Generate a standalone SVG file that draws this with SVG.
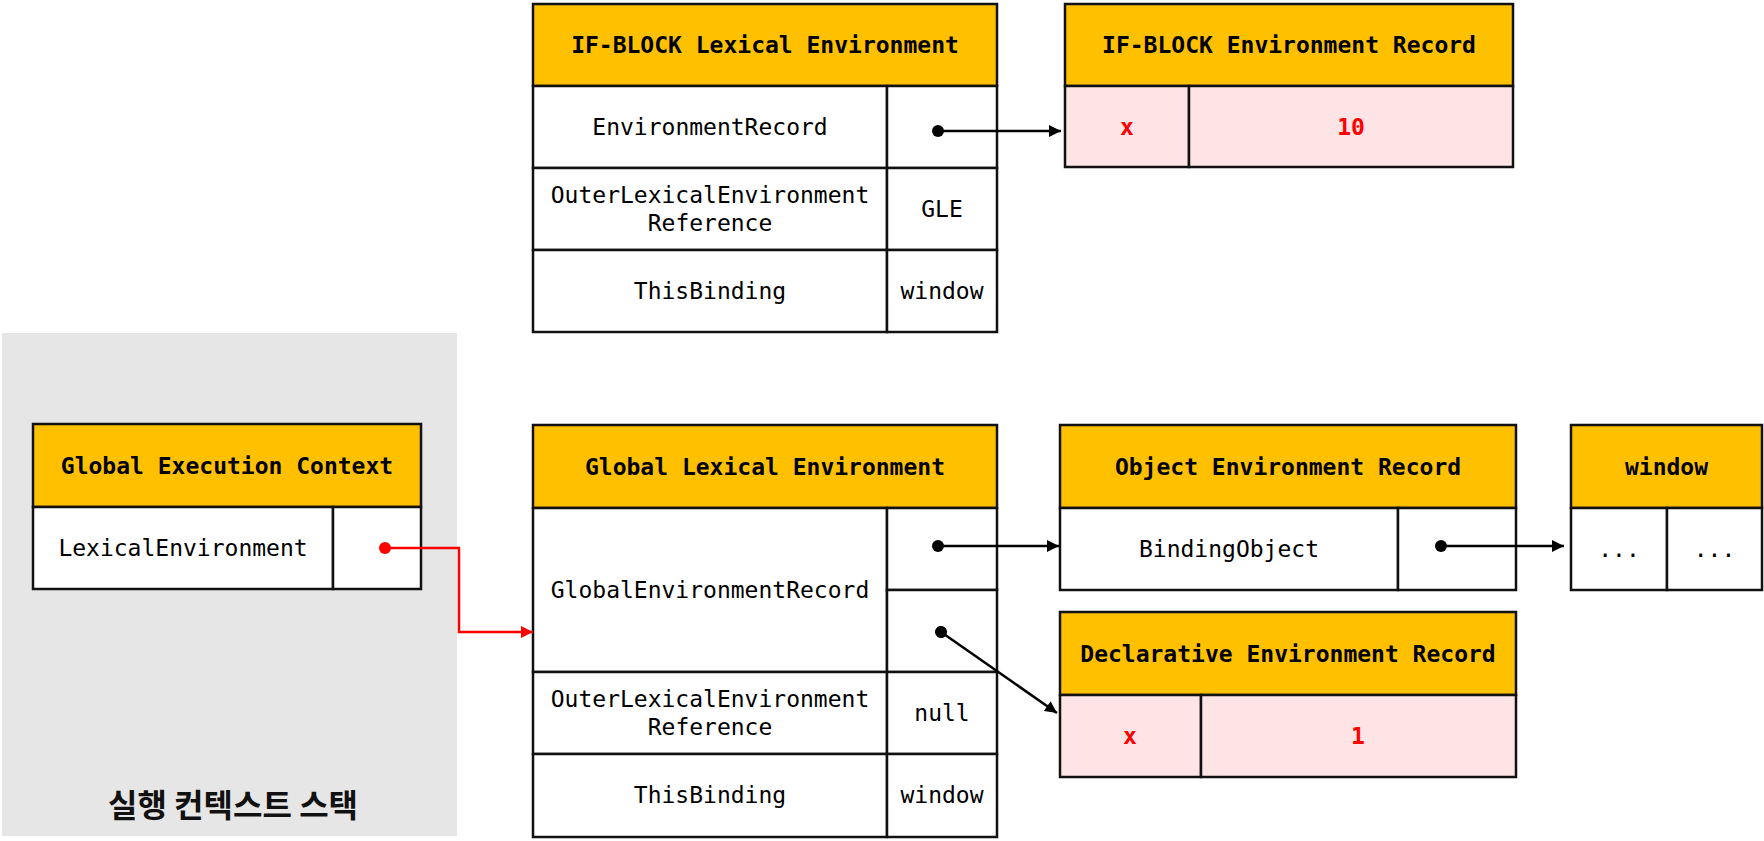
<svg xmlns="http://www.w3.org/2000/svg" width="1764" height="841" viewBox="0 0 1764 841">
<style>
.hdr{fill:#FFC000;stroke:#111;stroke-width:2.5}
.cell{fill:#fff;stroke:#111;stroke-width:2.5}
.pink{fill:#FFE4E6;stroke:#111;stroke-width:2.5}
text{font-family:"DejaVu Sans Mono","Liberation Mono",monospace;font-size:23px;text-anchor:middle;fill:#000}
.b{font-weight:bold}
.r{fill:#f00;font-weight:bold}
.kr{font-family:"Noto Sans CJK KR","Noto Sans",sans-serif;font-size:32px;font-weight:bold;fill:#111}
.conn{fill:none;stroke:#000;stroke-width:2.5}
.red{fill:none;stroke:#f00;stroke-width:2.5}
</style>
<defs>
<marker id="arr" markerUnits="userSpaceOnUse" viewBox="0 0 12 12" markerWidth="12" markerHeight="12" refX="12" refY="6" orient="auto"><path d="M0,0 L12,6 L0,12 z" fill="#000"/></marker>
<marker id="dot" markerUnits="userSpaceOnUse" viewBox="0 0 12 12" markerWidth="12" markerHeight="12" refX="6" refY="6" orient="auto"><circle cx="6" cy="6" r="6" fill="#000"/></marker>
<marker id="arrR" markerUnits="userSpaceOnUse" viewBox="0 0 12 12" markerWidth="12" markerHeight="12" refX="12" refY="6" orient="auto"><path d="M0,0 L12,6 L0,12 z" fill="#f00"/></marker>
<marker id="dotR" markerUnits="userSpaceOnUse" viewBox="0 0 12 12" markerWidth="12" markerHeight="12" refX="6" refY="6" orient="auto"><circle cx="6" cy="6" r="6" fill="#f00"/></marker>
</defs>
<rect width="1764" height="841" fill="#fff"/>

<g id="stack">
<rect x="2" y="333" width="455" height="503" fill="#E6E6E6"/>
<text class="kr" x="233" y="817">실행 컨텍스트 스택</text>
</g>

<g id="if-block-le">
<rect class="hdr" x="533" y="4" width="464" height="82"/>
<text class="b" x="765" y="53">IF-BLOCK Lexical Environment</text>
<rect class="cell" x="533" y="86" width="354" height="82"/>
<rect class="cell" x="887" y="86" width="110" height="82"/>
<rect class="cell" x="533" y="168" width="354" height="82"/>
<rect class="cell" x="887" y="168" width="110" height="82"/>
<rect class="cell" x="533" y="250" width="354" height="82"/>
<rect class="cell" x="887" y="250" width="110" height="82"/>
<text x="710" y="135">EnvironmentRecord</text>
<text x="710" y="203">OuterLexicalEnvironment</text>
<text x="710" y="231">Reference</text>
<text x="942" y="217">GLE</text>
<text x="710" y="299">ThisBinding</text>
<text x="942" y="299">window</text>
</g>

<g id="if-block-er">
<rect class="hdr" x="1065" y="4" width="448" height="82"/>
<text class="b" x="1289" y="53">IF-BLOCK Environment Record</text>
<rect class="pink" x="1065" y="86" width="124" height="81"/>
<rect class="pink" x="1189" y="86" width="324" height="81"/>
<text class="r" x="1127" y="135">x</text>
<text class="r" x="1351" y="135">10</text>
</g>

<g id="gec">
<rect class="hdr" x="33" y="424" width="388" height="83"/>
<text class="b" x="227" y="474">Global Execution Context</text>
<rect class="cell" x="33" y="507" width="300" height="82"/>
<rect class="cell" x="333" y="507" width="88" height="82"/>
<text x="183" y="556">LexicalEnvironment</text>
</g>

<g id="global-le">
<rect class="hdr" x="533" y="425" width="464" height="83"/>
<text class="b" x="765" y="475">Global Lexical Environment</text>
<rect class="cell" x="533" y="508" width="354" height="164"/>
<rect class="cell" x="887" y="508" width="110" height="82"/>
<rect class="cell" x="887" y="590" width="110" height="82"/>
<rect class="cell" x="533" y="672" width="354" height="82"/>
<rect class="cell" x="887" y="672" width="110" height="82"/>
<rect class="cell" x="533" y="754" width="354" height="83"/>
<rect class="cell" x="887" y="754" width="110" height="83"/>
<text x="710" y="598">GlobalEnvironmentRecord</text>
<text x="710" y="707">OuterLexicalEnvironment</text>
<text x="710" y="735">Reference</text>
<text x="942" y="721">null</text>
<text x="710" y="803">ThisBinding</text>
<text x="942" y="803">window</text>
</g>

<g id="object-er">
<rect class="hdr" x="1060" y="425" width="456" height="83"/>
<text class="b" x="1288" y="475">Object Environment Record</text>
<rect class="cell" x="1060" y="508" width="338" height="82"/>
<rect class="cell" x="1398" y="508" width="118" height="82"/>
<text x="1229" y="557">BindingObject</text>
</g>

<g id="window">
<rect class="hdr" x="1571" y="425" width="191" height="83"/>
<text class="b" x="1666.5" y="475">window</text>
<rect class="cell" x="1571" y="508" width="96" height="82"/>
<rect class="cell" x="1667" y="508" width="95" height="82"/>
<text x="1619" y="557">...</text>
<text x="1714.5" y="557">...</text>
</g>

<g id="declarative-er">
<rect class="hdr" x="1060" y="612" width="456" height="83"/>
<text class="b" x="1288" y="662">Declarative Environment Record</text>
<rect class="pink" x="1060" y="695" width="141" height="82"/>
<rect class="pink" x="1201" y="695" width="315" height="82"/>
<text class="r" x="1130" y="744">x</text>
<text class="r" x="1358" y="744">1</text>
</g>

<g id="connectors">
<path class="conn" d="M938,131 H1061" marker-start="url(#dot)" marker-end="url(#arr)"/>
<path class="conn" d="M938,546 H1059" marker-start="url(#dot)" marker-end="url(#arr)"/>
<path class="conn" d="M941,632 L1057,713" marker-start="url(#dot)" marker-end="url(#arr)"/>
<path class="conn" d="M1441,546 H1564" marker-start="url(#dot)" marker-end="url(#arr)"/>
<path class="red" d="M385,548 H459 V632 H533" marker-start="url(#dotR)" marker-end="url(#arrR)"/>
</g>
</svg>
